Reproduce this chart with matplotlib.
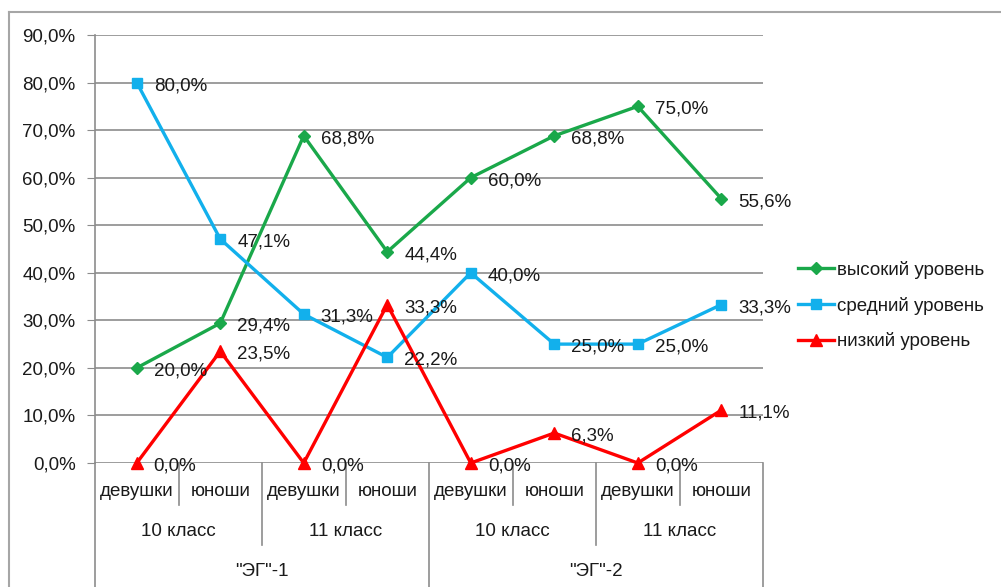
import matplotlib
matplotlib.use("Agg")
import matplotlib.pyplot as plt
from matplotlib.lines import Line2D
import matplotlib.transforms as mtransforms

plt.rcParams['font.family'] = ['Liberation Sans', 'DejaVu Sans']

# Data
subgroups = ["девушки", "юноши", "девушки", "юноши", "девушки", "юноши", "девушки", "юноши"]
classes = ["10 класс", "11 класс", "10 класс", "11 класс"]
groups = ['"ЭГ"-1', '"ЭГ"-2']
series_names = ["высокий уровень", "средний уровень", "низкий уровень"]
high = [20.0, 29.4, 68.8, 44.4, 60.0, 68.8, 75.0, 55.6]
mid = [80.0, 47.1, 31.3, 22.2, 40.0, 25.0, 25.0, 33.3]
low = [0.0, 23.5, 0.0, 33.3, 0.0, 6.3, 0.0, 11.1]
yticks = [0, 10, 20, 30, 40, 50, 60, 70, 80, 90]

W, H = 1001, 587
fig = plt.figure(figsize=(W / 100, H / 100), dpi=100)
fig.patch.set_facecolor("white")

# plot area in pixels: x 95..763, y 35..463
ax = fig.add_axes([95 / W, (H - 463) / H, (763 - 95) / W, (463 - 35) / H])
ax.set_facecolor("white")

grid_c = "#8c8c8c"
txt_c = "#1a1a1a"
fs = 13.5

x = list(range(len(subgroups)))
styles = [
    (high, "#1aa84a", "D", 6),
    (mid, "#12b0ec", "s", 7.5),
    (low, "#ff0000", "^", 8),
]
for (vals, color, mk, ms), name in zip(styles, series_names):
    ax.plot(x, vals, color=color, lw=2.4, marker=mk, markersize=ms,
            markeredgecolor=color, markerfacecolor=color, label=name, zorder=3,
            clip_on=False)
    for xi, v in zip(x, vals):
        ax.annotate(f"{v:.1f}%".replace(".", ","), (xi, v),
                    xytext=(17, -3), textcoords="offset pixels",
                    ha="left", va="center", fontsize=fs, color=txt_c, zorder=4)

ax.set_xlim(-0.5, len(subgroups) - 0.5)
ax.set_ylim(0, 90)
ax.set_yticks(yticks)
ax.set_yticklabels([f"{t:.1f}%".replace(".", ",") for t in yticks],
                   fontsize=fs, color=txt_c)
ax.tick_params(axis="y", length=6, color=grid_c, pad=8)
ax.set_xticks([])
ax.yaxis.grid(True, color=grid_c, lw=1.2)
ax.set_axisbelow(True)
for s in ["top", "right", "bottom"]:
    ax.spines[s].set_visible(False)
ax.spines["left"].set_color(grid_c)
ax.spines["left"].set_linewidth(1.2)

# Multi-level category axis
tr = mtransforms.blended_transform_factory(ax.transData, ax.transAxes)
ph = 463 - 35
def ay(py):
    return (463 - py) / ph

row1, row2, row3 = ay(491), ay(531), ay(571)
for i, lab in enumerate(subgroups):
    ax.text(i, row1, lab, transform=tr, ha="center", va="center",
            fontsize=fs, color=txt_c)
for j, lab in enumerate(classes):
    ax.text(2 * j + 0.5, row2, lab, transform=tr, ha="center", va="center",
            fontsize=fs, color=txt_c)
for k, lab in enumerate(groups):
    ax.text(4 * k + 1.5, row3, lab, transform=tr, ha="center", va="center",
            fontsize=fs, color=txt_c)

bottom_end = ay(H + 5)
for b in range(len(subgroups) + 1):
    xb = b - 0.5
    if b % 4 == 0:
        y_end = bottom_end
    elif b % 2 == 0:
        y_end = ay(545)
    else:
        y_end = ay(505)
    ax.add_line(Line2D([xb, xb], [0, y_end], transform=tr, color=grid_c,
                       lw=1.2, clip_on=False))

# Outer frame
fig.add_artist(Line2D([9 / W, 9 / W], [0, (H - 12) / H], color="#a6a6a6", lw=1.5))
fig.add_artist(Line2D([9 / W, 1.0], [(H - 12) / H, (H - 12) / H], color="#a6a6a6", lw=1.5))

leg = fig.legend(loc="upper left", bbox_to_anchor=(781 / W, (H - 244) / H),
                 frameon=False, fontsize=fs, handlelength=1.9, handletextpad=0.2,
                 labelspacing=0.95, labelcolor=txt_c)

fig.savefig("out.png", dpi=100, facecolor="white")
